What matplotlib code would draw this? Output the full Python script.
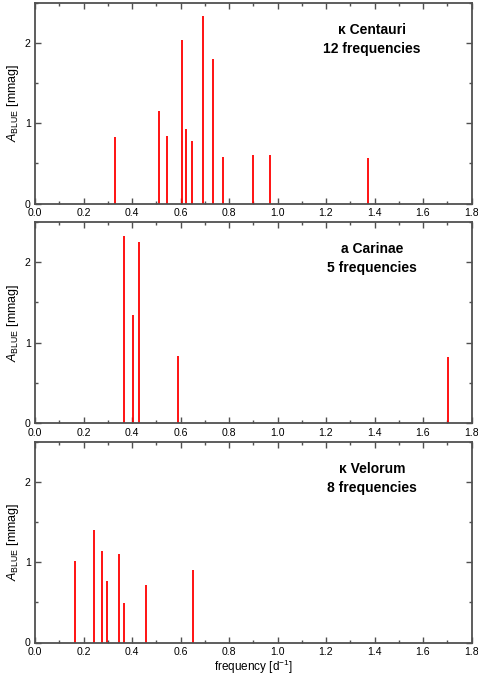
import matplotlib.pyplot as plt
from matplotlib.ticker import MultipleLocator

plt.rcParams['font.family'] = ['Liberation Sans', 'DejaVu Sans']
plt.rcParams['mathtext.fontset'] = 'custom'
plt.rcParams['mathtext.rm'] = 'Liberation Sans'
plt.rcParams['mathtext.it'] = 'Liberation Sans:italic'

# kappa Centauri
kcen_freq = [0.330, 0.513, 0.545, 0.606, 0.623, 0.647, 0.694, 0.735, 0.775, 0.899, 0.969, 1.372]
kcen_amp = [0.83, 1.15, 0.84, 2.04, 0.93, 0.78, 2.34, 1.80, 0.58, 0.60, 0.60, 0.57]

# a Carinae
acar_freq = [0.369, 0.406, 0.429, 0.590, 1.704]
acar_amp = [2.32, 1.34, 2.25, 0.83, 0.82]

# kappa Velorum
kvel_freq = [0.167, 0.242, 0.275, 0.296, 0.345, 0.369, 0.458, 0.652]
kvel_amp = [1.02, 1.40, 1.14, 0.77, 1.10, 0.49, 0.72, 0.91]

stars = ['κ Centauri\n12 frequencies', 'a Carinae\n5 frequencies', 'κ Velorum\n8 frequencies']
data = [(kcen_freq, kcen_amp), (acar_freq, acar_amp), (kvel_freq, kvel_amp)]

fig = plt.figure(figsize=(4.78, 6.75), dpi=100)

W, H = 478, 675
left, right = 35, 471.5
panels = [(3, 203.5), (222, 423), (442, 642.5)]
frame = '#505050'

for i, ((top, bot), (f, a), name) in enumerate(zip(panels, data, stars)):
    ax = fig.add_axes([left / W, 1 - bot / H, (right - left) / W, (bot - top) / H])
    ax.vlines(f, 0, a, color='red', lw=1.3)
    ax.set_xlim(0, 1.8)
    ax.set_ylim(0, 2.5)
    ax.xaxis.set_minor_locator(MultipleLocator(0.1))
    ax.yaxis.set_minor_locator(MultipleLocator(0.5))
    ax.set_xticks([0, 0.2, 0.4, 0.6, 0.8, 1.0, 1.2, 1.4, 1.6, 1.8])
    ax.set_xticklabels(['0.0', '0.2', '0.4', '0.6', '0.8', '1.0', '1.2', '1.4', '1.6', '1.8'])
    ax.set_yticks([0, 1, 2])
    ax.set_yticklabels(['0', '1', '2'])
    ax.tick_params(which='both', direction='in', top=True, right=True,
                   color=frame, labelsize=7.6)
    ax.tick_params(axis='x', pad=3.5)
    ax.tick_params(axis='y', pad=3)
    ax.tick_params(which='major', length=4, width=1)
    ax.tick_params(which='minor', length=2.5, width=1)
    for sp in ax.spines.values():
        sp.set_color(frame)
        sp.set_linewidth(1.3)
    ax.set_ylabel(r'$\mathit{A}_{\mathrm{BLUE}}$ [mmag]', fontsize=9, labelpad=3)
    ax.text(1.39, 2.05, name, ha='center', va='center', fontsize=10,
            fontweight='bold', linespacing=1.45)
    if i == 2:
        ax.set_xlabel(r'frequency [d$^{\mathrm{-1}}$]', fontsize=8.5, labelpad=0.5)

fig.savefig('out.png', dpi=100)
